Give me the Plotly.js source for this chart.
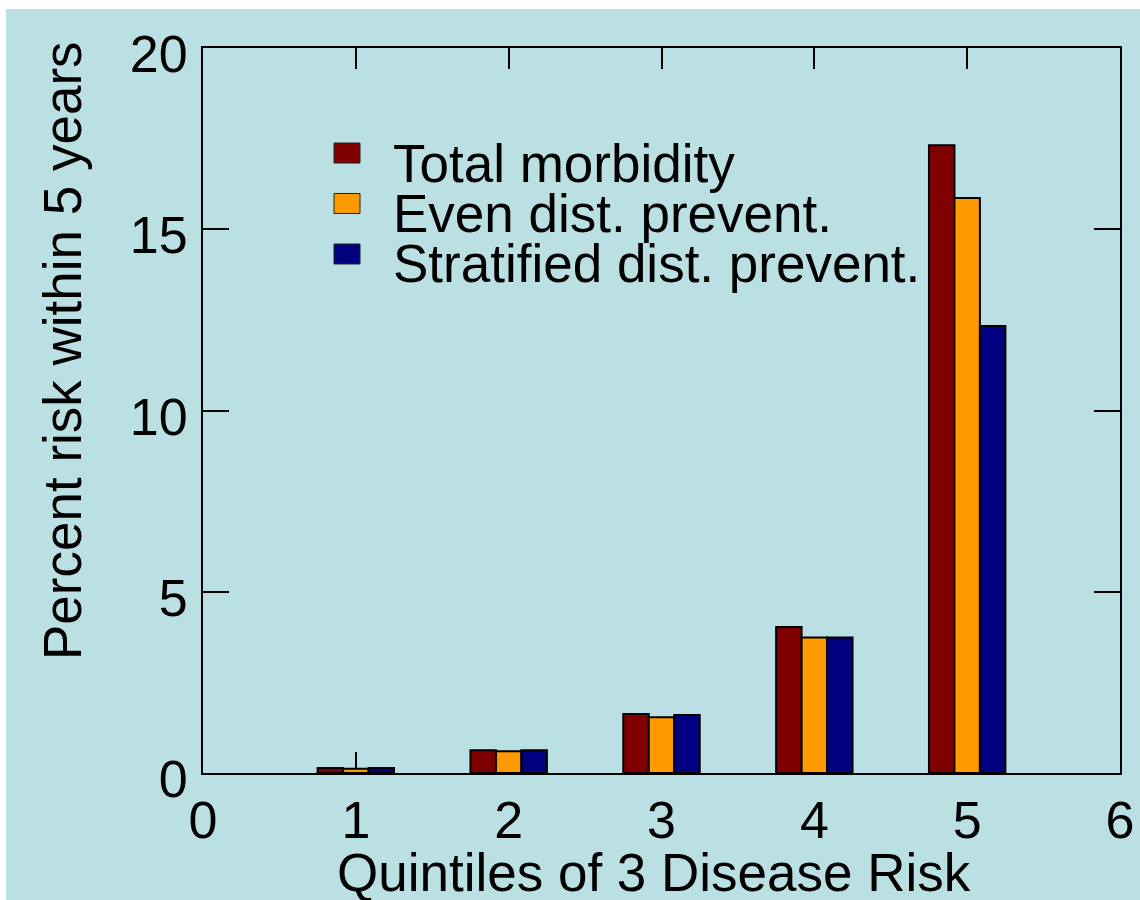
<!DOCTYPE html>
<html>
<head>
<meta charset="utf-8">
<script src="https://cdn.plot.ly/plotly-3.0.1.min.js"></script>
<style>
  html, body { margin: 0; padding: 0; background: #ffffff; width: 1140px; height: 900px; overflow: hidden; }
  #chart { position: absolute; left: 6px; top: 9px; width: 1134px; height: 891px; }
</style>
</head>
<body>
<div id="chart"></div>
<script>
// ---- data ----
const quintiles = [1, 2, 3, 4, 5];
const seriesNames = ["Total morbidity", "Even dist. prevent.", "Stratified dist. prevent."];
const totalMorbidity = [0.14, 0.63, 1.63, 4.03, 17.32];
const evenPrevent = [0.12, 0.60, 1.54, 3.74, 15.86];
const stratifiedPrevent = [0.14, 0.63, 1.60, 3.74, 12.33];
const seriesColors = ["#800000", "#ff9900", "#000080"];
const xTickVals = [0, 1, 2, 3, 4, 5, 6];
const yTickVals = [0, 5, 10, 15, 20];
const xTitle = "Quintiles of 3 Disease Risk";
const yTitle = "Percent risk within 5 years";

const FONT = '"Liberation Sans", Arial, Helvetica, sans-serif';
const allValues = [totalMorbidity, evenPrevent, stratifiedPrevent];

const traces = allValues.map((vals, i) => ({
  type: 'bar',
  x: quintiles,
  y: vals,
  name: seriesNames[i],
  marker: { color: seriesColors[i], line: { color: '#000000', width: 2 } },
  showlegend: false,
  hoverinfo: 'skip'
}));

// manual legend (larger symbols than plotly's built-in legend)
const legX0 = (334 - 203) / 917, legX1 = (360 - 203) / 917;
const legTextX = (391 - 203) / 917;
const rowTop = [143, 193.5, 244];
const shapes = [];
const annotations = [];
seriesNames.forEach((nm, i) => {
  shapes.push({
    type: 'rect', xref: 'paper', yref: 'paper',
    x0: legX0, x1: legX1,
    y0: (773 - rowTop[i]) / 725, y1: (773 - rowTop[i] - 20) / 725,
    fillcolor: seriesColors[i], line: { color: '#222222', width: 1 }
  });
  annotations.push({
    xref: 'paper', yref: 'paper', x: legTextX, y: (773 - (rowTop[i] + 20)) / 725,
    xanchor: 'left', yanchor: 'middle', showarrow: false,
    text: nm, font: { family: FONT, size: 53, color: '#000000' }
  });
});
annotations.push({
  xref: 'paper', yref: 'paper', x: (654 - 203) / 917, y: (773 - 872) / 725,
  xanchor: 'center', yanchor: 'middle', showarrow: false,
  text: xTitle, font: { family: FONT, size: 53, color: '#000000' }
});
annotations.push({
  xref: 'paper', yref: 'paper', x: (62 - 203) / 917, y: (773 - 351) / 725,
  xanchor: 'center', yanchor: 'middle', showarrow: false, textangle: -90,
  text: yTitle, font: { family: FONT, size: 53, color: '#000000' }
});

const axisCommon = {
  showline: true, linecolor: '#000000', linewidth: 2,
  mirror: 'ticks', ticks: 'inside', tickwidth: 2, tickcolor: '#000000',
  showgrid: false, zeroline: false, layer: 'below traces',
  tickfont: { family: FONT, size: 52, color: '#000000' },
  tickmode: 'array', fixedrange: true
};

const layout = {
  width: 1134, height: 891,
  margin: { l: 197, r: 20, t: 39, b: 127 },
  paper_bgcolor: '#bbe0e3',
  plot_bgcolor: '#bbe0e3',
  barmode: 'group', bargap: 0.5, bargroupgap: 0,
  xaxis: Object.assign({}, axisCommon, {
    range: [0, 6], tickvals: xTickVals, ticktext: xTickVals.map(String),
    ticklen: 21, ticklabelstandoff: 1
  }),
  yaxis: Object.assign({}, axisCommon, {
    range: [0, 20], tickvals: yTickVals, ticktext: yTickVals.map(String),
    ticklen: 26, ticklabelstandoff: 3, ticklabelshift: 6
  }),
  shapes: shapes,
  annotations: annotations,
  showlegend: false
};

Plotly.newPlot('chart', traces, layout, { displayModeBar: false, staticPlot: true });
</script>
</body>
</html>
